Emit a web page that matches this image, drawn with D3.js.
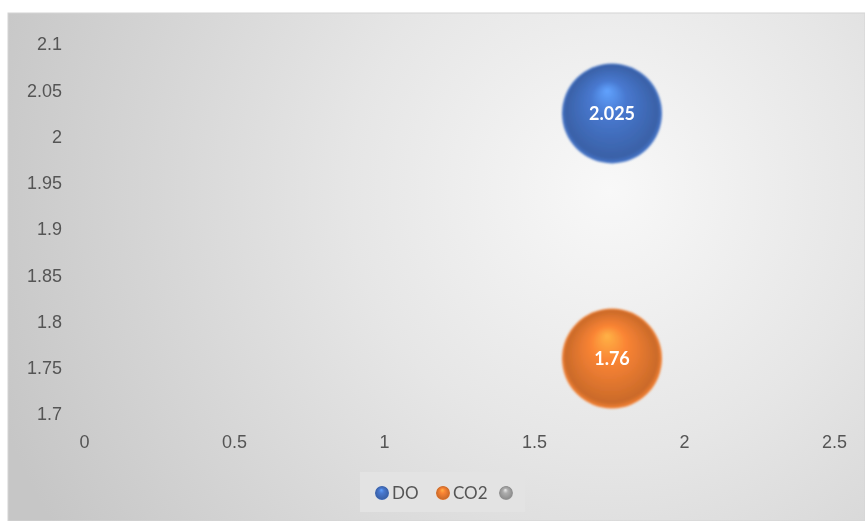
<!DOCTYPE html>
<html><head><meta charset="utf-8">
<script src="https://cdn.jsdelivr.net/npm/d3@7"></script>
<style>
html,body{margin:0;padding:0;background:#fff;}
svg{display:block;font-family:Lato, "Open Sans", sans-serif;}
</style></head>
<body>
<svg id="chart" width="865" height="521"></svg>
<script>
const seriesNames = ["DO", "CO2", ""];
const xValues = [1.76, 1.76];
const yValues = [2.025, 1.76];
const labels = ["2.025", "1.76"];
const xTicks = [0, 0.5, 1, 1.5, 2, 2.5];
const yTicks = [1.7, 1.75, 1.8, 1.85, 1.9, 1.95, 2, 2.05, 2.1];
const colors = ["#4472c4", "#ed7d31", "#a5a5a5"];

const svg = d3.select("#chart");
const defs = svg.append("defs");

// background gradient
const bg = defs.append("radialGradient").attr("id","bg")
  .attr("gradientUnits","userSpaceOnUse")
  .attr("cx",610).attr("cy",190).attr("r",650);
bg.append("stop").attr("offset","0").attr("stop-color","#f8f8f8");
bg.append("stop").attr("offset","0.4").attr("stop-color","#e6e6e6");
bg.append("stop").attr("offset","1").attr("stop-color","#c6c6c6");

svg.append("rect").attr("x",8).attr("y",13).attr("width",857).attr("height",508)
  .attr("fill","url(#bg)").attr("stroke","#d4d4d4");

const blur = defs.append("filter").attr("id","soft").attr("x","-10%").attr("y","-10%").attr("width","120%").attr("height","120%");
blur.append("feGaussianBlur").attr("stdDeviation",1.2);
const tblur = defs.append("filter").attr("id","tsoft");
tblur.append("feGaussianBlur").attr("stdDeviation",0.35);

function sphere(id, base){
  const c = d3.color(base);
  const g = defs.append("radialGradient").attr("id",id)
    .attr("cx","0.5").attr("cy","0.5").attr("r","0.5")
    .attr("fx","0.45").attr("fy","0.27");
  g.append("stop").attr("offset","0").attr("stop-color", c.brighter(1.0));
  g.append("stop").attr("offset","0.35").attr("stop-color", c.brighter(0.15));
  g.append("stop").attr("offset","0.75").attr("stop-color", c.darker(0.25));
  g.append("stop").attr("offset","0.92").attr("stop-color", c.darker(0.45));
  g.append("stop").attr("offset","1").attr("stop-color", c.brighter(0.1));
}
colors.forEach((c,i)=>sphere("s"+i,c));

const x = d3.scaleLinear().domain([0,2.5]).range([84,834]);
const y = d3.scaleLinear().domain([1.7,2.1]).range([414,44]);

const xAxis = svg.append("g").attr("transform","translate(0,442)")
  .call(d3.axisBottom(x).tickValues(xTicks).tickFormat(d=>String(d)).tickSize(0).tickPadding(0));
xAxis.select(".domain").remove();
xAxis.selectAll("text").attr("fill","#555").attr("font-size","18px").attr("dy","0.35em").attr("filter","url(#tsoft)");

const yAxis = svg.append("g").attr("transform","translate(62,0)")
  .call(d3.axisLeft(y).tickValues(yTicks).tickFormat(d=>String(+d.toFixed(2))).tickSize(0).tickPadding(0));
yAxis.select(".domain").remove();
yAxis.selectAll("text").attr("fill","#555").attr("font-size","18px").attr("filter","url(#tsoft)");

const pts = xValues.map((v,i)=>({x:v,y:yValues[i],label:labels[i],i}));
const bub = svg.append("g").selectAll("g").data(pts).join("g")
  .attr("transform",d=>`translate(${x(d.x)},${y(d.y)})`);
bub.append("circle").attr("r",50).attr("fill",d=>`url(#s${d.i})`).attr("filter","url(#soft)");
bub.append("text").text(d=>d.label).attr("text-anchor","middle").attr("dy","0.35em")
  .attr("fill","#fff").attr("font-size","18px").attr("font-weight","bold").attr("filter","url(#tsoft)");

// legend
svg.append("rect").attr("x",360).attr("y",472).attr("width",165).attr("height",40).attr("fill","#e3e3e3");
const lg = svg.append("g");
const lx = [382, 443, 506];
seriesNames.forEach((n,i)=>{
  lg.append("circle").attr("cx",lx[i]).attr("cy",493).attr("r",7).attr("fill",`url(#s${i})`);
  lg.append("text").attr("x",lx[i]+10).attr("y",493).attr("dy","0.35em").text(n)
    .attr("fill","#555").attr("font-size","17px").attr("filter","url(#tsoft)");
});
</script>
</body></html>
